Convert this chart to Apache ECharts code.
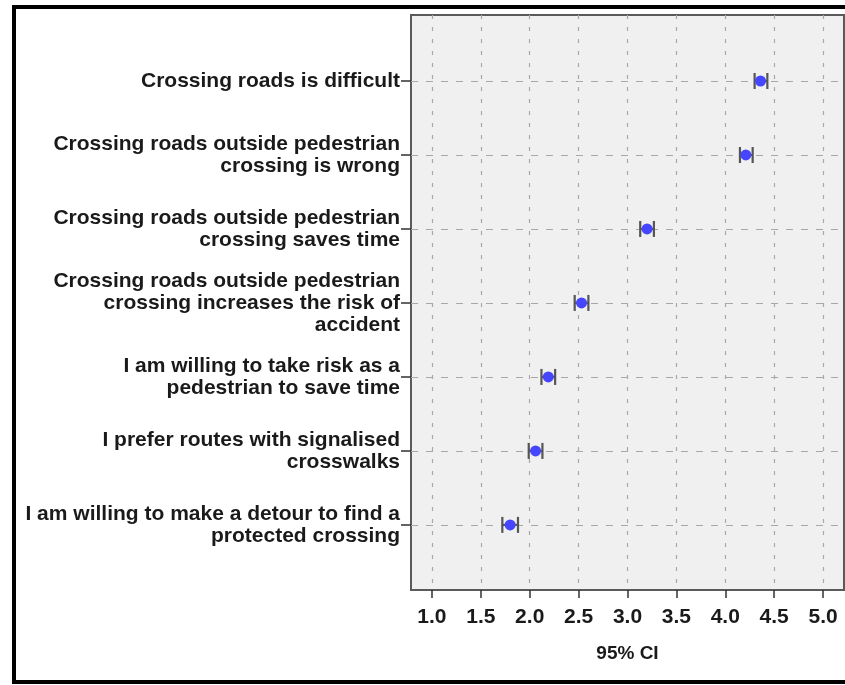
<!DOCTYPE html>
<html>
<head>
<meta charset="utf-8">
<script src="https://cdn.jsdelivr.net/npm/echarts@6/dist/echarts.min.js"></script>
<style>
  html, body { margin: 0; padding: 0; background: #fff; }
  #chart { width: 845px; height: 685px; }
</style>
</head>
<body>
<div id="chart"></div>
<script>
// Statements, listed from top row to bottom row
const statements = [
  'Crossing roads is difficult',
  'Crossing roads outside pedestrian\ncrossing is wrong',
  'Crossing roads outside pedestrian\ncrossing saves time',
  'Crossing roads outside pedestrian\ncrossing increases the risk of\naccident',
  'I am willing to take risk as a\npedestrian to save time',
  'I prefer routes with signalised\ncrosswalks',
  'I am willing to make a detour to find a\nprotected crossing'
];
// Mean score and 95% confidence interval bounds per statement
const means = [4.36, 4.21, 3.20, 2.53, 2.19, 2.06, 1.80];
const lowerCI = [4.30, 4.15, 3.13, 2.46, 2.12, 1.99, 1.72];
const upperCI = [4.43, 4.28, 3.27, 2.60, 2.26, 2.13, 1.88];
// Scale tick values
const xTicks = [1.0, 1.5, 2.0, 2.5, 3.0, 3.5, 4.0, 4.5, 5.0];
const rowTicks = [1, 2, 3, 4, 5, 6, 7];
const xTitle = '95% CI';

const font = '"Liberation Sans", Arial, sans-serif';
const rowIndex = statements.map((_, i) => i + 1);

const chart = echarts.init(document.getElementById('chart'), null, { renderer: 'canvas' });

const option = {
  animation: false,
  backgroundColor: '#ffffff',
  graphic: [{
    type: 'rect',
    z: 100,
    silent: true,
    shape: { x: 14, y: 7, width: 900, height: 675 },
    style: { fill: 'none', stroke: '#000', lineWidth: 4 }
  }],
  grid: {
    left: 411, right: 1, top: 15, bottom: 95,
    show: true,
    backgroundColor: '#f0f0f0',
    borderColor: '#5a5a5a',
    borderWidth: 2
  },
  xAxis: {
    type: 'value',
    min: 0.786,
    max: 5.214,
    name: xTitle,
    nameLocation: 'middle',
    nameGap: 54,
    nameTextStyle: { fontFamily: font, fontWeight: 'bold', fontSize: 19, color: '#1a1a1a' },
    axisLine: { show: false },
    axisTick: {
      show: true, length: 8, inside: false,
      customValues: xTicks,
      lineStyle: { color: '#333', width: 1.5 }
    },
    axisLabel: {
      customValues: xTicks,
      margin: 17,
      fontFamily: font, fontWeight: 'bold', fontSize: 21, color: '#1a1a1a',
      formatter: v => Number(v).toFixed(1)
    },
    splitLine: {
      show: true,
      lineStyle: { color: '#a8a8a8', type: [4, 8], width: 1.2 }
    }
  },
  yAxis: {
    type: 'value',
    inverse: true,
    min: 0.108,
    max: 7.88,
    axisLine: { show: false },
    axisTick: {
      show: true, length: 10, inside: false,
      customValues: rowTicks,
      lineStyle: { color: '#333', width: 1.5 }
    },
    axisLabel: {
      customValues: rowTicks,
      margin: 11,
      align: 'right',
      padding: [12, 0, 0, 0],
      fontFamily: font, fontWeight: 'bold', fontSize: 21, lineHeight: 22, color: '#1a1a1a',
      formatter: v => statements[Math.round(v) - 1] || ''
    },
    splitLine: {
      show: true,
      lineStyle: { color: '#a8a8a8', type: [7, 8], width: 1.2 }
    }
  },
  series: [
    {
      // Confidence interval bars with end caps
      type: 'custom',
      z: 3,
      data: rowIndex.map((r, i) => [lowerCI[i], upperCI[i], r]),
      renderItem: function (params, api) {
        const lo = api.coord([api.value(0), api.value(2)]);
        const hi = api.coord([api.value(1), api.value(2)]);
        const h = 8;
        const st = { stroke: '#555', lineWidth: 2.2, fill: 'none' };
        return {
          type: 'group',
          children: [
            { type: 'line', shape: { x1: lo[0], y1: lo[1], x2: hi[0], y2: hi[1] }, style: st },
            { type: 'line', shape: { x1: lo[0], y1: lo[1] - h, x2: lo[0], y2: lo[1] + h }, style: st },
            { type: 'line', shape: { x1: hi[0], y1: hi[1] - h, x2: hi[0], y2: hi[1] + h }, style: st }
          ]
        };
      }
    },
    {
      type: 'scatter',
      z: 4,
      symbol: 'circle',
      symbolSize: 11,
      itemStyle: { color: '#4646ff', opacity: 1 },
      data: rowIndex.map((r, i) => [means[i], r])
    }
  ]
};

chart.setOption(option);
</script>
</body>
</html>
